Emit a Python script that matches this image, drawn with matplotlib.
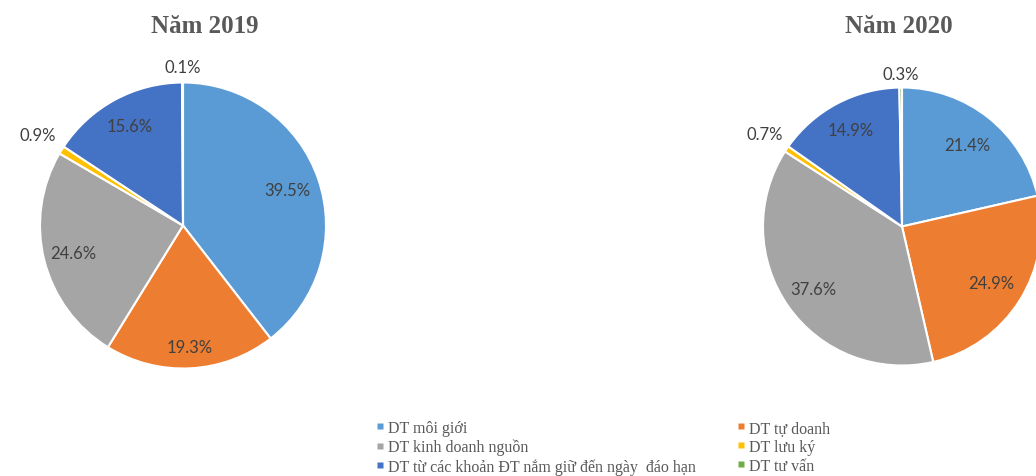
import matplotlib
matplotlib.use("Agg")
import matplotlib.pyplot as plt
from matplotlib.lines import Line2D

categories = ["DT môi giới", "DT tự doanh", "DT kinh doanh nguồn", "DT lưu ký",
              "DT từ các khoản ĐT nắm giữ đến ngày  đáo hạn", "DT tư vấn"]
values_2019 = [39.5, 19.3, 24.6, 0.9, 15.6, 0.1]
values_2020 = [21.4, 24.9, 37.6, 0.7, 14.9, 0.3]
titles = ["Năm 2019", "Năm 2020"]
colors = ["#5B9BD5", "#ED7D31", "#A5A5A5", "#FFC000", "#4472C4", "#70AD47"]

# label distance (fraction of radius) per slice - layout only
dist_2019 = [0.77, 0.85, 0.79, 1.20, 0.79, 1.11]
dist_2020 = [0.75, 0.76, 0.78, 1.19, 0.79, 1.10]

W, H = 1036, 477
fig = plt.figure(figsize=(W / 100, H / 100), dpi=100)


def px_axes(cx, cy, r):
    return fig.add_axes([(cx - r) / W, (H - cy - r) / H, 2 * r / W, 2 * r / H])


def draw_pie(ax, vals, factors):
    wedges, _, autos = ax.pie(
        vals, colors=colors, startangle=90, counterclock=False,
        autopct="%1.1f%%", pctdistance=1.0, normalize=True,
        wedgeprops=dict(edgecolor="white", linewidth=1.5, clip_on=False),
        textprops=dict(fontfamily="Lato", fontsize=12, color="#404040"))
    for t, v, f in zip(autos, vals, factors):
        x, y = t.get_position()
        t.set_position((x * f, y * f))
        t.set_text(f"{v:.1f}%")
        t.set_ha("center")
        t.set_va("center")
    ax.set_xlim(-1, 1)
    ax.set_ylim(-1, 1)
    ax.set_aspect("equal")
    return wedges


ax1 = px_axes(183, 226.5, 143)
draw_pie(ax1, values_2019, dist_2019)
ax2 = px_axes(902, 227.5, 139)
draw_pie(ax2, values_2020, dist_2020)

for x, t in zip([205, 899], titles):
    fig.text(x / W, 1 - 33 / H, t, ha="center", va="baseline",
             fontfamily="Liberation Serif", fontweight="bold", fontsize=18,
             color="#595959")

handles = [Line2D([], [], marker="s", linestyle="none", markersize=4.5,
                  markerfacecolor=c, markeredgecolor="none") for c in colors]
order = [0, 2, 4, 1, 3, 5]
leg = fig.legend([handles[i] for i in order], [categories[i] for i in order],
                 ncol=2, loc="upper left", bbox_to_anchor=(376 / W, 1 - 421 / H),
                 frameon=False, borderpad=0, borderaxespad=0,
                 handlelength=0.5, handletextpad=0.25, columnspacing=2.6,
                 labelspacing=0.18,
                 prop=dict(family="Liberation Serif", size=11.5))
for t in leg.get_texts():
    t.set_color("#595959")

fig.savefig("out.png", dpi=100)
